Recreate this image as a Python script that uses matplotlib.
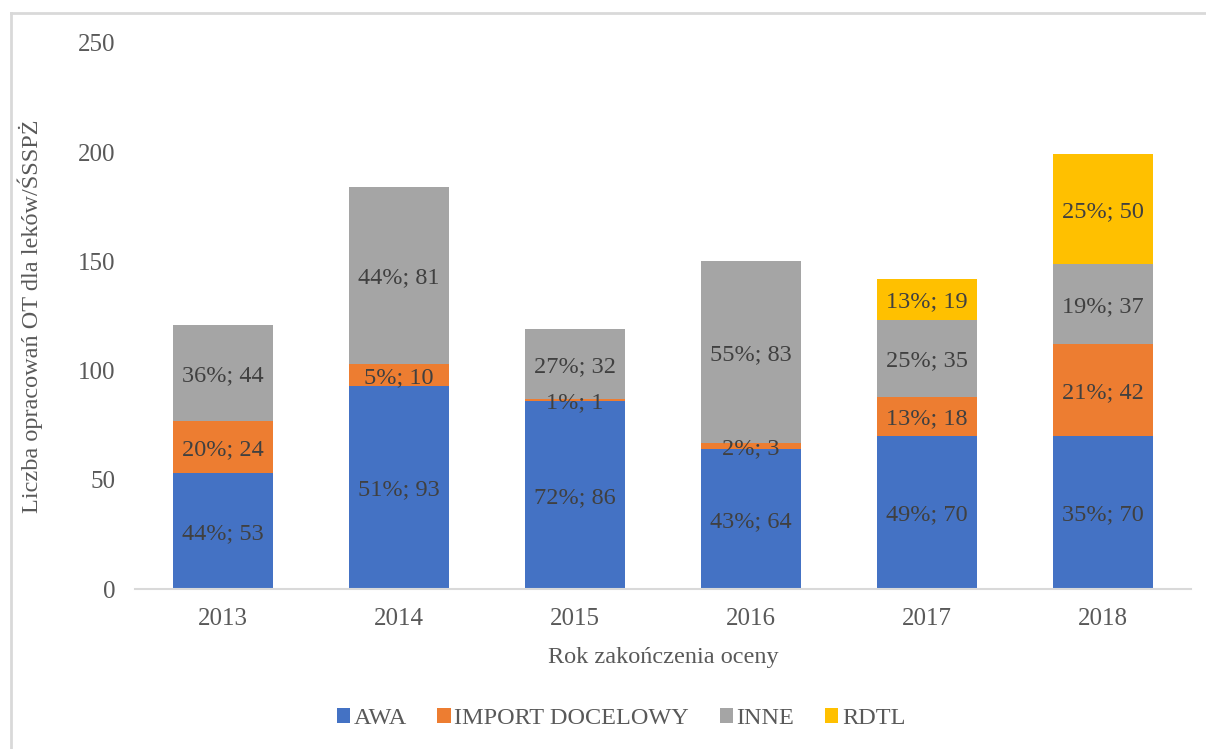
import numpy as np
import matplotlib
matplotlib.use('Agg')
import matplotlib.pyplot as plot
from matplotlib.lines import Line2D

years = ['2013', '2014', '2015', '2016', '2017', '2018']
series_names = ['AWA', 'IMPORT DOCELOWY', 'INNE', 'RDTL']
awa = [53, 93, 86, 64, 70, 70]
import_doc = [24, 10, 1, 3, 18, 42]
inne = [44, 81, 32, 83, 35, 37]
rdtl = [0, 0, 0, 0, 19, 50]
awa_pct = [44, 51, 72, 43, 49, 35]
import_pct = [20, 5, 1, 2, 13, 21]
inne_pct = [36, 44, 27, 55, 25, 19]
rdtl_pct = [0, 0, 0, 0, 13, 25]
colors = ['#4472C4', '#ED7D31', '#A5A5A5', '#FFC000']

plot.rcParams['font.family'] = ['Liberation Serif', 'DejaVu Serif']

fig = plot.figure(figsize=(12.06, 7.49), dpi=100)
ax = fig.add_axes([0.112, 0.2136, 0.8756, 0.729])

# outer frame: only left and top edges show in the original crop
fx, fy = 10.5 / 1206, 1 - 13 / 749
fig.lines.append(Line2D([fx, fx], [0, fy], transform=fig.transFigure,
                        color='#D9D9D9', linewidth=2.0))
fig.lines.append(Line2D([fx, 1], [fy, fy], transform=fig.transFigure,
                        color='#D9D9D9', linewidth=2.0))

x = np.arange(len(years))
width = 0.568
bottom = np.zeros(len(years))
values = [awa, import_doc, inne, rdtl]
pcts = [awa_pct, import_pct, inne_pct, rdtl_pct]
for name, vals, pc, col in zip(series_names, values, pcts, colors):
    vals = np.array(vals, dtype=float)
    ax.bar(x, vals, width, bottom=bottom, color=col, label=name, zorder=2)
    for i in range(len(years)):
        if vals[i] > 0:
            ax.text(x[i], bottom[i] + vals[i] / 2, '{}%; {}'.format(pc[i], int(vals[i])),
                    ha='center', va='center_baseline', fontsize=17.5,
                    color='#404040', zorder=3)
    bottom += vals

ax.set_xlim(-0.5, len(years) - 0.5)
ax.set_ylim(0, 250)
ax.set_yticks([0, 50, 100, 150, 200, 250])
ax.set_xticks(x)
ax.set_xticklabels(years)
for s in ['top', 'right', 'left']:
    ax.spines[s].set_visible(False)
ax.spines['bottom'].set_color('#D9D9D9')
ax.spines['bottom'].set_linewidth(1.5)
ax.tick_params(axis='both', length=0, labelsize=18, colors='#595959')
ax.tick_params(axis='y', pad=14)
ax.tick_params(axis='x', pad=14)

ax.set_ylabel('Liczba opracowań OT dla leków/ŚSSPŻ', fontsize=17.5, color='#595959', labelpad=25)
ax.set_xlabel('Rok zakończenia oceny', fontsize=17.5, color='#595959', labelpad=12)

leg = fig.legend(loc='center', bbox_to_anchor=(0.515, 0.041), ncol=4, frameon=False,
                 fontsize=17.5, handlelength=0.55, handleheight=0.55, handletextpad=0.15,
                 columnspacing=1.25)
for t in leg.get_texts():
    t.set_color('#595959')

fig.savefig('out.png', dpi=100)
